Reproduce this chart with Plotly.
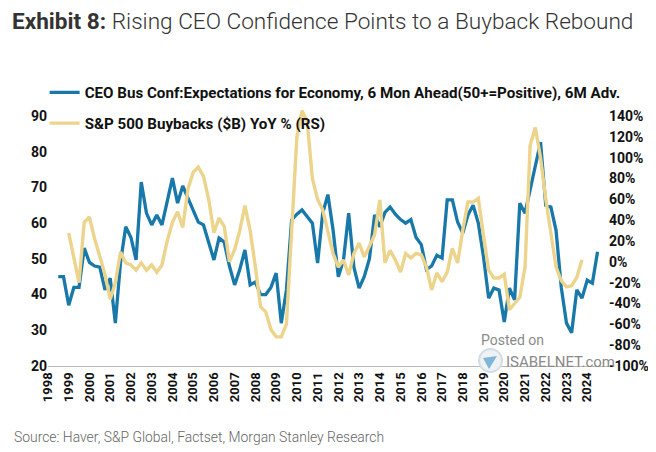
import plotly.graph_objects as go
import pandas as pd

# CEO confidence (left axis), quarterly from 1998 Q3
ceo_start = "1998-07-01"
ceo_values = [
    45, 45, 37, 42, 42, 53, 49, 48, 47.7, 41.3, 44.6, 32, 49, 59, 56, 49.7,
    71.5, 62.8, 59.5, 62.3, 59.5, 66, 72.6, 65.6, 70.4, 67, 63.7, 60.3, 59.5, 54.4,
    49.7, 55.8, 54.7, 48, 42.7, 47, 52.5, 42.7, 43.5, 40, 40, 42, 46, 32,
    41.3, 60.9, 62.5, 63.7, 62, 60, 48.8, 62.8, 68, 58, 45, 49.7, 62.8, 47.7,
    41.8, 45, 50, 62.3, 59, 63, 64.5, 62.5, 61, 60, 61, 56, 54, 47,
    48, 51, 50.2, 66.5, 66.5, 60.3, 57.2, 62.3, 65, 60, 50.5, 39, 41.8, 41.3,
    32.3, 41.8, 38.5, 65.6, 62.8, 69, 76, 82.7, 65, 64.5, 58, 42, 32, 29.3,
    41.3, 39, 44, 43.2, 52,
]

# S&P 500 buybacks YoY % (right axis), quarterly from 1999 Q1
bb_start = "1999-01-01"
bb_values = [
    27.7, 5, -20, 38, 43, 22, 5, -12, -36, -20, 9.4, -1, -3, -8, -1, -8,
    -3, -10, -3, 20, 38, 48, 33, 70, 86, 91, 82, 60, 28, 42, 34, 0,
    12, 30, 54, 30, -5, -43, -48, -65, -72, -72, -60, 30, 120, 145, 135, 80,
    60, 50, 30, 8, -5, 1.8, -12.6, 8, 18, 4.6, 15, 26, 59.4, -1, 11, 1.8,
    -9.8, 8, 3.7, 8, 6.6, -5, -27, -10.7, -19, -9.8, 13, -1, 30.6, 57.4, 57.4, 61,
    25, -7.8, -15.5, -15.5, -12, -46, -40, -34, -5, 112, 129, 100, 60, 25, -5, -18,
    -24, -23, -15, 2,
]

# axis tick labels
year_labels = ["1998", "1999", "2000", "2001", "2002", "2003", "2004", "2005", "2006",
               "2007", "2008", "2009", "2010", "2011", "2012", "2013", "2014", "2015",
               "2016", "2017", "2018", "2019", "2020", "2021", "2022", "2023", "2024"]
left_ticks = [20, 30, 40, 50, 60, 70, 80, 90]
right_ticks = [-100, -80, -60, -40, -20, 0, 20, 40, 60, 80, 100, 120, 140]
right_labels = ["-100%", "-80%", "-60%", "-40%", "-20%", "0%", "20%", "40%", "60%",
                "80%", "100%", "120%", "140%"]

ceo_dates = pd.date_range(ceo_start, periods=len(ceo_values), freq="QS")
bb_dates = pd.date_range(bb_start, periods=len(bb_values), freq="QS")
year_ticks = [y + "-01-01" for y in year_labels]

ceo_name = "CEO Bus Conf:Expectations for Economy, 6 Mon Ahead(50+=Positive), 6M Adv."
bb_name = "S&P 500 Buybacks ($B) YoY % (RS)"

BLUE = "#1878A9"
GOLD = "#EDD48C"

fig = go.Figure()
fig.add_trace(go.Scatter(
    x=bb_dates, y=bb_values, name=bb_name, yaxis="y2", mode="lines",
    line=dict(color=GOLD, width=3.4), legendgroup="b", legendrank=2,
))
fig.add_trace(go.Scatter(
    x=ceo_dates, y=ceo_values, name=ceo_name, mode="lines",
    line=dict(color=BLUE, width=3.3), legendgroup="a", legendrank=1,
))

tick_font = dict(family="Roboto", size=14, color="#111111", weight="bold")

# page body has an 8px default margin, so the figure is 8px smaller each way
W, H = 648, 444
L, R, T, B = 40, 48, 98, 86
PW, PH = W - L - R, H - T - B


def px(x):  # screenshot pixel x -> paper
    return (x - 8 - L) / PW


def py(y):  # screenshot pixel y -> paper
    return (H - B - (y - 8)) / PH


fig.update_layout(
    width=W, height=H,
    margin=dict(l=L, r=R, t=T, b=B, autoexpand=False),
    paper_bgcolor="white", plot_bgcolor="white",
    showlegend=True,
    legend=dict(
        x=-0.006, y=1.115, xanchor="left", yanchor="top",
        bgcolor="rgba(0,0,0,0)", borderwidth=0,
        font=dict(family="Roboto", size=15.15, color="#111111", weight="bold"),
        tracegroupgap=8, traceorder="grouped",
    ),
    xaxis=dict(
        type="date", range=["1998-01-01", "2025-01-01"],
        tickvals=year_ticks, ticktext=year_labels, tickangle=-90,
        showgrid=False, zeroline=False,
        showline=True, linecolor="#B8B8B8", linewidth=1.2,
        ticks="", tickfont=dict(family="Roboto", size=13, color="#111111", weight="bold"),
    ),
    yaxis=dict(
        range=[20, 92.8], tickvals=left_ticks,
        showgrid=False, zeroline=False,
        showline=False, ticks="", tickfont=tick_font,
    ),
    yaxis2=dict(
        range=[-100, 149.6], tickvals=right_ticks, ticktext=right_labels,
        overlaying="y", side="right",
        showgrid=False, zeroline=False, showline=False, ticks="",
        tickfont=tick_font,
    ),
    shapes=[
        dict(type="circle", xref="paper", yref="paper",
             x0=px(479), x1=px(502), y0=py(372), y1=py(349),
             line=dict(color="#d4dde4", width=2), fillcolor="#eef2f5", layer="above"),
        dict(type="path", xref="paper", yref="paper",
             path="M %f %f L %f %f L %f %f Z" % (
                 px(483), py(358), px(497), py(356), px(489), py(369)),
             line=dict(width=0), fillcolor="#7fb6d8", layer="above"),
    ],
    annotations=[
        dict(
            xref="paper", yref="paper", x=-0.0685, y=1.325, xanchor="left", yanchor="middle",
            text='<b>Exhibit 8:</b> <span style="font-weight:300">Rising CEO Confidence Points to a Buyback Rebound</span>',
            showarrow=False, font=dict(family="Roboto", size=22.6, color="#333333"),
        ),
        dict(
            xref="paper", yref="paper", x=-0.065, y=-0.273, xanchor="left", yanchor="middle",
            text='<span style="font-weight:300">Source: Haver, S&P Global, Factset, Morgan Stanley Research</span>',
            showarrow=False, font=dict(family="Roboto", size=13.9, color="#666666"),
        ),
        dict(
            xref="paper", yref="paper", x=0.77, y=0.10, xanchor="left", yanchor="middle",
            text="Posted on", showarrow=False,
            font=dict(family="Roboto", size=14, color="#8a8a8a"),
        ),
        dict(
            xref="paper", yref="paper", x=0.815, y=0.015, xanchor="left", yanchor="middle",
            text="ISABELNET.com", showarrow=False,
            font=dict(family="Roboto", size=15, color="#8a8a8a"),
        ),
    ],
)

fig.write_html("out.html")
